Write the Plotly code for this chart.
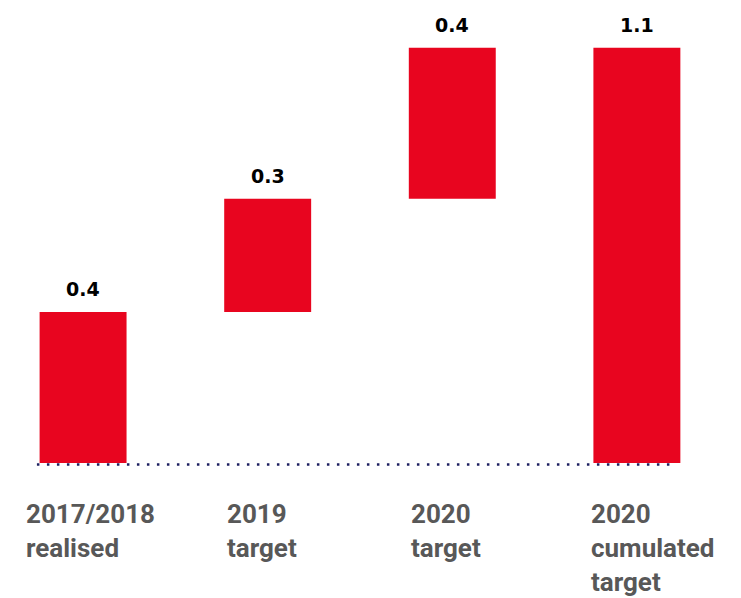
import plotly.graph_objects as go

categories = ["2017/2018 realised", "2019 target", "2020 target", "2020 cumulated target"]
label_lines = ["2017/2018<br>realised", "2019<br>target", "2020<br>target", "2020<br>cumulated<br>target"]
values = [0.4, 0.3, 0.4, 1.1]
measures = ["relative", "relative", "relative", "total"]
value_text = ["0.4", "0.3", "0.4", "1.1"]

RED = "#E8051F"
BAR_W = 0.471

xs = list(range(len(categories)))

fig = go.Figure()
fig.add_trace(go.Waterfall(
    x=xs,
    y=values,
    measure=measures,
    width=[BAR_W] * len(xs),
    increasing=dict(marker=dict(color=RED)),
    decreasing=dict(marker=dict(color=RED)),
    totals=dict(marker=dict(color=RED)),
    connector=dict(visible=False),
    hoverinfo="skip",
    showlegend=False,
))

# tops of the bars (cumulative)
tops = []
run = 0
for v, m in zip(values, measures):
    if m == "total":
        tops.append(run)
    else:
        run += v
        tops.append(run)

annotations = []
for x, top, t in zip(xs, tops, value_text):
    annotations.append(dict(
        x=x, y=top, xref="x", yref="y", text="<b>" + t + "</b>", showarrow=False,
        yanchor="bottom", xanchor="center", yshift=10,
        font=dict(family="DejaVu Sans", size=19, color="#000000"),
    ))

label_xshift = [-16, 1, 0, -4]
for x, lab, xs_ in zip(xs, label_lines, label_xshift):
    annotations.append(dict(
        x=x - BAR_W / 2, y=0, xref="x", yref="y", text="<b>" + lab + "</b>",
        showarrow=False, xanchor="left", yanchor="top", align="left",
        xshift=xs_, yshift=-34,
        font=dict(family="Roboto", size=26, color="#585858"),
    ))

fig.update_layout(
    width=741, height=598,
    margin=dict(l=0, r=0, t=0, b=132),
    paper_bgcolor="white", plot_bgcolor="white",
    xaxis=dict(range=[-0.450, 3.564], visible=False, fixedrange=True),
    yaxis=dict(range=[-0.008, 1.2265], visible=False, fixedrange=True),
    annotations=annotations,
    shapes=[dict(
        type="line", xref="x", yref="y",
        x0=-0.25, x1=3.20, y0=-0.004, y1=-0.004,
        line=dict(color="#1E2060", width=2.5, dash="2.5px,7.5px"),
        layer="above",
    )],
)

fig.write_html("out.html", post_script="document.body.style.margin='0';document.body.style.overflow='hidden';",
               config={"displayModeBar": False})
